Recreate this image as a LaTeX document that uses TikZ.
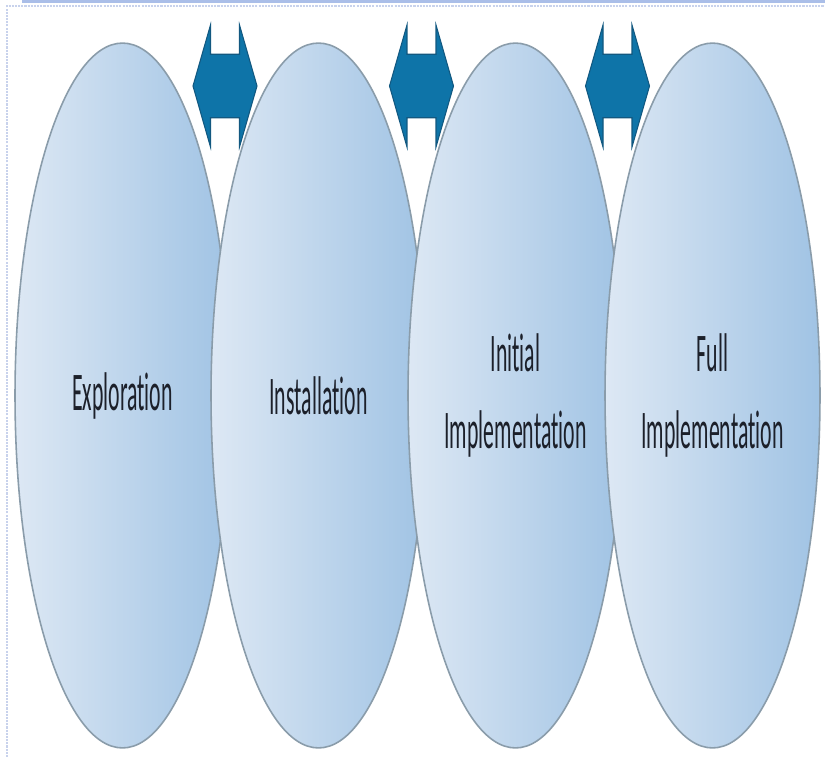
\documentclass[tikz,border=0pt]{standalone}
\usepackage{fontspec}
\newfontfamily\stagefont[FakeStretch=0.4,Ligatures={NoCommon}]{Carlito}
\usetikzlibrary{shapes.geometric,shapes.arrows,positioning}
\definecolor{ovalleft}{RGB}{221,232,244}
\definecolor{ovalright}{RGB}{160,195,228}
\definecolor{ovaledge}{RGB}{138,156,170}
\definecolor{arrowblue}{RGB}{14,116,168}
\definecolor{arrowedge}{RGB}{18,88,128}
\definecolor{framecol}{RGB}{200,210,236}
\definecolor{framebar}{RGB}{170,190,232}
\definecolor{stagetext}{RGB}{28,32,42}

\begin{document}
\begin{tikzpicture}[x=0.02cm,y=-0.02cm,
    stage/.style={ellipse, draw=ovaledge, line width=0.9pt,
          left color=ovalleft, right color=ovalright,
          minimum width=4.3cm, minimum height=14.1cm, inner sep=0pt,
          align=center, text=stagetext,
          font=\stagefont\fontsize{31}{44}\selectfont},
    flow/.style={double arrow, fill=arrowblue, draw=arrowedge, line width=0.6pt,
          minimum height=1.28cm, minimum width=2.44cm,
          inner xsep=0pt, inner ysep=0.62cm,
          double arrow head extend=0.58cm, double arrow tip angle=148}]
    \useasboundingbox (0,0) rectangle (825,757);
    \fill[white] (0,0) rectangle (825,757);
    % screenshot frame
    \fill[framebar] (22,0) rectangle (825,3);
    \draw[framecol, line width=0.7pt, dash pattern=on 1.2pt off 0.6pt]
         (7,757) -- (7,6) -- (825,6);
    % the four stages, each one over the last
    \node[stage] (e1) at (122.5,395.5) {Exploration};
    \node[stage] (e2) at (318.5,395.5) {Installation};
    \node[stage] (e3) at (515.5,395.5) {Initial\\Implementation};
    \node[stage] (e4) at (712.5,395.5) {Full\\Implementation};
    % links between neighbours
    \node[flow] (a1) at (225,86) {};
    \node[flow] (a2) at (421.5,86) {};
    \node[flow] (a3) at (617.5,86) {};
  \end{tikzpicture}
\end{document}
